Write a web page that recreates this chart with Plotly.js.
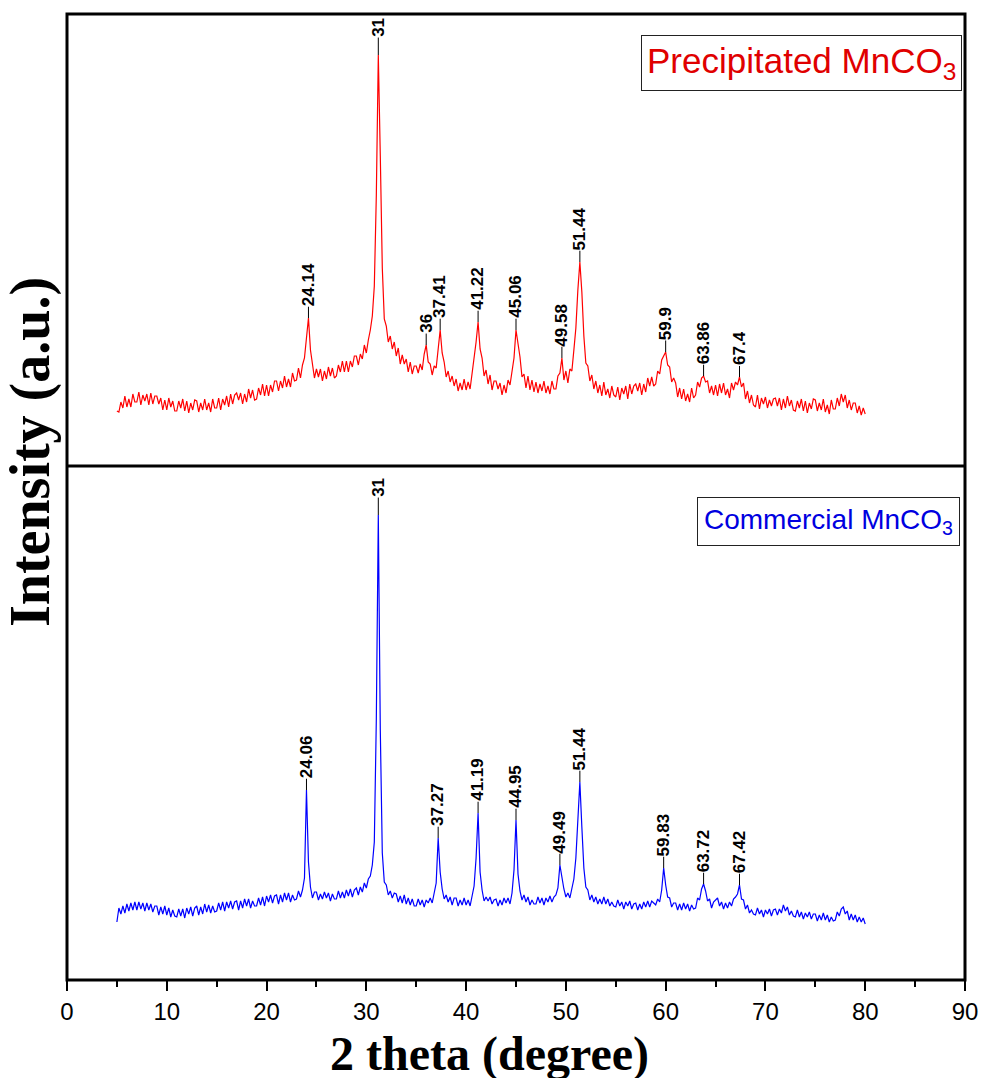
<!DOCTYPE html>
<html>
<head>
<meta charset="utf-8">
<script src="https://cdn.plot.ly/plotly-3.0.1.min.js"></script>
<style>html,body{margin:0;padding:0;background:#fff;}#chart{width:985px;height:1078px;}</style>
</head>
<body>
<div id="chart"></div>
<script>
// 2-theta scan grid (degrees): 5.0 to 80.0, step 0.2
const scanStart = 5.0, scanStep = 0.2, scanCount = 376;
const twoTheta = [];
for (let i = 0; i < scanCount; i++) twoTheta.push(+(scanStart + i * scanStep).toFixed(1));

// Precipitated MnCO3 intensity (a.u.), 10 points per 2 degrees
const precipitated = [
  55,54,64,58,70,59,67,59,72,64,
  64,74,61,71,65,72,61,73,62,70,
  70,62,68,56,66,56,68,59,65,55,
  55,65,58,67,55,65,53,63,56,66,
  65,54,63,56,67,56,63,54,67,58,
  58,68,56,67,61,70,59,72,62,71,
  73,66,73,62,72,64,77,68,76,66,
  67,78,71,82,70,81,70,81,74,85,
  85,75,85,78,90,79,87,79,93,85,
  86,98,88,101,108,126,148,116,104,88,
  97,89,97,85,95,87,99,90,98,88,
  90,101,94,105,94,105,94,105,99,110,
  110,101,112,107,121,113,126,136,150,180,
  270,411,310,198,147,140,124,130,117,124,
  110,118,102,111,102,107,94,104,92,100,
  100,93,102,96,112,121,104,102,91,100,
  98,118,136,113,104,89,95,84,90,80,
  87,75,83,76,87,76,84,77,93,106,
  124,144,117,108,90,96,82,91,76,85,
  85,77,83,71,81,73,86,81,96,108,
  136,124,109,89,92,78,90,76,86,74,
  84,73,82,75,85,73,80,72,85,77,
  77,90,93,108,86,95,83,97,95,116,
  138,176,204,174,130,103,100,85,91,77,
  85,73,81,70,84,71,77,68,80,71,
  69,79,66,78,72,80,67,82,72,80,
  82,75,83,71,82,74,88,80,89,80,
  82,95,92,106,110,114,101,99,84,88,
  83,69,78,67,77,65,72,64,78,68,
  71,84,79,88,90,84,85,73,80,71,
  81,70,82,73,83,71,77,68,83,76,
  84,81,89,79,83,67,75,63,71,61,
  59,71,57,68,62,69,58,66,60,67,
  68,60,68,56,67,58,70,60,66,56,
  55,65,58,67,55,65,53,63,57,67,
  66,55,63,56,67,54,61,52,66,57,
  57,68,60,72,64,71,58,66,56,63,
  63,53,60,51,58,52
];

// Commercial MnCO3 intensity (a.u.)
const commercial = [
  58,72,66,74,67,76,69,77,70,78,
  70,78,71,77,69,77,70,76,68,74,
  74,65,73,66,74,65,72,63,70,64,
  63,71,64,71,62,72,66,73,64,72,
  74,65,73,66,76,68,75,67,74,68,
  69,77,70,78,69,78,72,79,71,78,
  79,70,79,72,81,74,81,72,79,74,
  74,82,75,83,74,84,78,85,77,84,
  85,76,85,78,87,80,87,78,85,80,
  81,89,83,90,102,190,118,93,82,88,
  88,80,86,81,88,82,87,79,86,81,
  81,89,82,88,82,90,84,91,83,90,
  92,85,93,88,97,92,101,104,115,138,
  260,465,250,127,98,95,85,89,82,87,
  86,78,84,77,85,76,82,75,81,74,
  74,81,75,80,73,80,77,82,77,86,
  97,142,108,91,81,85,78,83,75,82,
  82,74,80,75,82,75,80,74,84,94,
  122,167,108,90,79,83,79,83,76,80,
  81,74,80,75,82,77,82,76,87,110,
  160,106,89,80,85,78,83,75,80,76,
  76,83,77,82,75,82,78,84,78,83,
  85,92,115,102,91,83,87,82,91,101,
  122,165,198,153,112,93,90,80,85,78,
  83,76,81,76,83,76,81,74,78,74,
  73,80,74,78,71,78,74,79,71,76,
  77,70,76,71,78,73,79,73,79,77,
  75,81,78,90,112,95,83,82,73,77,
  77,70,76,70,77,71,76,69,75,71,
  72,82,80,91,96,89,79,81,72,78,
  80,82,74,78,71,77,72,78,74,81,
  83,86,95,81,80,71,75,67,70,66,
  65,72,66,70,63,70,66,71,64,70,
  71,65,71,67,75,69,73,65,69,64,
  63,70,63,68,61,67,63,68,61,66,
  66,59,65,60,67,60,65,58,63,59,
  60,68,64,71,73,66,69,60,66,60,
  65,58,63,58,62,56
];

// Peak labels
const precipitatedPeaks = [24.14, 31, 36, 37.41, 41.22, 45.06, 49.58, 51.44, 59.9, 63.86, 67.4];
const precipitatedPeakLabels = ["24.14","31","36","37.41","41.22","45.06","49.58","51.44","59.9","63.86","67.4"];
const commercialPeaks = [24.06, 31, 37.27, 41.19, 44.95, 49.49, 51.44, 59.83, 63.72, 67.42];
const commercialPeakLabels = ["24.06","31","37.27","41.19","44.95","49.49","51.44","59.83","63.72","67.42"];

const xTicks = [0,10,20,30,40,50,60,70,80,90];

const plotH = 1078 - 14 - 98;
const split = 1 - 452 / plotH;
const labelSize = 17;

function peakAnnotations(xs, ys, peaks, labels, yref) {
  return peaks.map((p, k) => {
    let bx = p, by = -Infinity;
    for (let i = 0; i < xs.length; i++) {
      if (Math.abs(xs[i] - p) <= 0.25 && ys[i] > by) { by = ys[i]; bx = xs[i]; }
    }
    const lab = labels[k];
    let len = 0;
    for (const ch of lab) len += (ch === '.') ? 0.278 * labelSize : 0.556 * labelSize;
    const line = lab === '31' ? 16 : 10;
    return {
      x: bx, y: by, xref: 'x', yref: yref,
      text: '<b>' + lab + '</b>', textangle: -90,
      font: {family: 'Liberation Sans, Arial, sans-serif', size: labelSize, color: '#000'},
      showarrow: true, arrowhead: 0, arrowwidth: 1, arrowcolor: '#000',
      ax: 0, ay: -(line + len / 2 + 2), borderpad: 0, standoff: 0
    };
  });
}

const traces = [
  {x: twoTheta, y: precipitated, type: 'scatter', mode: 'lines', xaxis: 'x', yaxis: 'y',
   line: {color: '#ff0000', width: 1.2}, name: 'Precipitated MnCO3', hoverinfo: 'skip'},
  {x: twoTheta, y: commercial, type: 'scatter', mode: 'lines', xaxis: 'x', yaxis: 'y2',
   line: {color: '#0000ff', width: 1.2}, name: 'Commercial MnCO3', hoverinfo: 'skip'}
];

const annotations = []
  .concat(peakAnnotations(twoTheta, precipitated, precipitatedPeaks, precipitatedPeakLabels, 'y'))
  .concat(peakAnnotations(twoTheta, commercial, commercialPeaks, commercialPeakLabels, 'y2'))
  .concat([
    {xref: 'paper', yref: 'paper', x: 0.9967, y: (980 - 35) / plotH, xanchor: 'right', yanchor: 'top',
     text: 'Precipitated MnCO<sub>3</sub>', showarrow: false,
     font: {family: 'Liberation Sans, Arial, sans-serif', size: 35, color: '#e00000'},
     bordercolor: '#222', borderwidth: 1, borderpad: 5, bgcolor: '#fff'},
    {xref: 'paper', yref: 'paper', x: 0.9944, y: (980 - 497) / plotH, xanchor: 'right', yanchor: 'top',
     text: 'Commercial MnCO<sub>3</sub>', showarrow: false,
     font: {family: 'Liberation Sans, Arial, sans-serif', size: 28, color: '#0000e0'},
     bordercolor: '#222', borderwidth: 1, borderpad: 6, bgcolor: '#fff'},
    {xref: 'paper', yref: 'paper', x: (31 - 67) / 898, y: (980 - 452) / plotH, xanchor: 'center', yanchor: 'middle',
     text: '<b>Intensity (a.u.)</b>', textangle: -90, showarrow: false,
     font: {family: 'Liberation Serif, Times New Roman, serif', size: 56, color: '#000'}},
    {xref: 'paper', yref: 'paper', x: (489 - 67) / 898, y: (980 - 1054) / plotH, xanchor: 'center', yanchor: 'middle',
     text: '<b>2 theta (degree)</b>', showarrow: false,
     font: {family: 'Liberation Serif, Times New Roman, serif', size: 48, color: '#000'}}
  ]);

const layout = {
  width: 985, height: 1078,
  margin: {l: 67, r: 20, t: 14, b: 98},
  paper_bgcolor: '#fff', plot_bgcolor: '#fff',
  showlegend: false,
  xaxis: {
    range: [0, 90], anchor: 'y2', showgrid: false, zeroline: false, showline: false,
    tickmode: 'array', tickvals: xTicks, ticktext: xTicks.map(String),
    ticks: 'outside', ticklen: 10, tickwidth: 2, tickcolor: '#000',
    minor: {dtick: 5, tick0: 0, ticks: 'outside', ticklen: 6, tickwidth: 2, tickcolor: '#000', showgrid: false},
    tickfont: {family: 'Liberation Sans, Arial, sans-serif', size: 24, color: '#000'}
  },
  yaxis: {domain: [split, 1], range: [0, 452], visible: false, fixedrange: true},
  yaxis2: {domain: [0, split], range: [0, plotH - 452], visible: false, fixedrange: true},
  shapes: [
    {type: 'rect', xref: 'paper', yref: 'paper', x0: 0, x1: 1, y0: 0, y1: 1, line: {color: '#000', width: 3}},
    {type: 'line', xref: 'paper', yref: 'paper', x0: 0, x1: 1, y0: split, y1: split, line: {color: '#000', width: 3}}
  ],
  annotations: annotations
};

Plotly.newPlot('chart', traces, layout, {staticPlot: true, displayModeBar: false});
</script>
</body>
</html>
